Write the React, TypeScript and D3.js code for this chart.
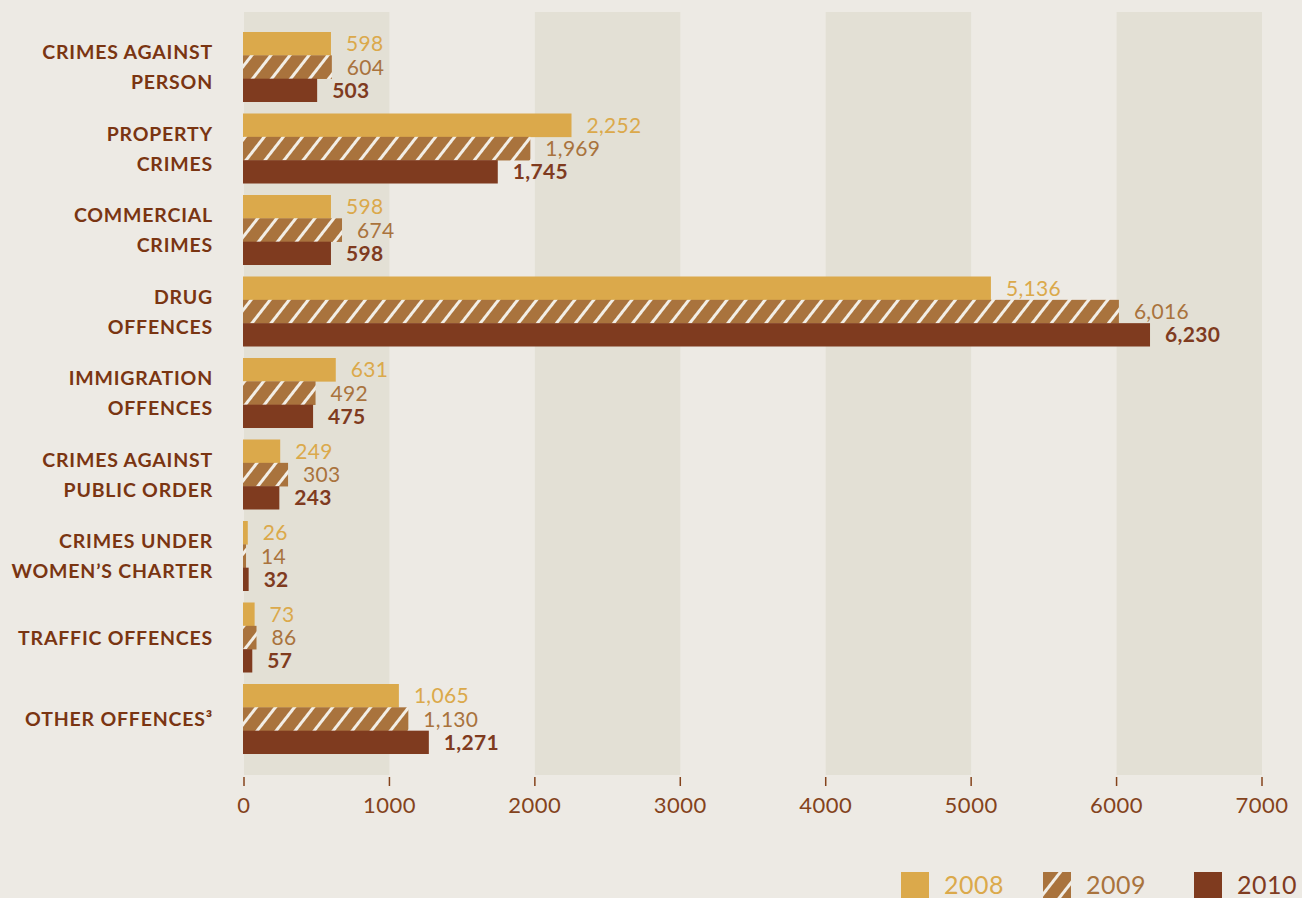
import React from "react";
import * as d3 from "d3";

const categories: string[][] = [
  ["CRIMES AGAINST", "PERSON"],
  ["PROPERTY", "CRIMES"],
  ["COMMERCIAL", "CRIMES"],
  ["DRUG", "OFFENCES"],
  ["IMMIGRATION", "OFFENCES"],
  ["CRIMES AGAINST", "PUBLIC ORDER"],
  ["CRIMES UNDER", "WOMEN’S CHARTER"],
  ["TRAFFIC OFFENCES"],
  ["OTHER OFFENCES³"],
];
const years = ["2008", "2009", "2010"];
const values2008 = [598, 2252, 598, 5136, 631, 249, 26, 73, 1065];
const values2009 = [604, 1969, 674, 6016, 492, 303, 14, 86, 1130];
const values2010 = [503, 1745, 598, 6230, 475, 243, 32, 57, 1271];
const xTicks = [0, 1000, 2000, 3000, 4000, 5000, 6000, 7000];

const W = 1302;
const H = 898;
const BG = "#EDEAE4";
const BAND = "#E3E0D5";
const C2008 = "#DBA94B";
const C2009 = "#A9733D";
const C2010 = "#7F3B1F";
const LABEL = "#7A3512";
const AXIS = "#84431C";
const FONT = "Lato, 'Open Sans', sans-serif";

export default function App() {
  const series = [values2008, values2009, values2010];
  const keys = categories.map((c) => c.join(" "));
  const x = d3.scaleLinear().domain([0, 7000]).range([244, 1262]);
  const y = d3
    .scaleBand<string>()
    .domain(keys)
    .range([26.25, 759.75])
    .paddingInner(0.141)
    .paddingOuter(0.0705);
  const yy = d3.scaleBand<string>().domain(years).range([0, y.bandwidth()]);
  const fmt = d3.format(",");
  const fills = [C2008, "url(#stripes)", C2010];
  const textColors = [C2008, C2009, C2010];
  const weights = [400, 400, 700];

  const bands = [0, 2000, 4000, 6000];

  return (
    <svg
      width={W}
      height={H}
      style={{ position: "absolute", left: 0, top: 0, display: "block" }}
      fontFamily={FONT}
    >
      <defs>
        <pattern
          id="stripes"
          patternUnits="userSpaceOnUse"
          width={15}
          height={15}
          patternTransform="rotate(38)"
        >
          <rect width={15} height={15} fill={C2009} />
          <line x1={7.5} y1={-1} x2={7.5} y2={16} stroke="#F2EEE6" strokeWidth={3} />
        </pattern>
      </defs>
      <rect width={W} height={H} fill={BG} />
      {bands.map((b) => (
        <rect key={b} x={x(b)} y={12} width={x(b + 1000) - x(b)} height={763} fill={BAND} />
      ))}
      {keys.map((k, i) => {
        const y0 = y(k)!;
        const cy = y0 + y.bandwidth() / 2;
        const lines = categories[i];
        return (
          <g key={k}>
            {lines.map((ln, j) => (
              <text
                key={j}
                x={213}
                y={cy + (j - (lines.length - 1) / 2) * 30}
                dy="0.36em"
                textAnchor="end"
                fontSize={19.5}
                fontWeight={700}
                letterSpacing={0.8}
                fill={LABEL}
              >
                {ln}
              </text>
            ))}
            {years.map((yr, s) => {
              const v = series[s][i];
              const by = y0 + yy(yr)!;
              return (
                <g key={yr}>
                  <rect
                    x={243}
                    y={by}
                    width={Math.max(x(v) - 243, 1)}
                    height={yy.bandwidth() + (s < 2 ? 0.3 : 0)}
                    fill={fills[s]}
                  />
                  <text
                    x={x(v) + 15}
                    y={by + yy.bandwidth() / 2}
                    dy="0.36em"
                    fontSize={21}
                    fontWeight={weights[s]}
                    letterSpacing={0.3}
                    fill={textColors[s]}
                  >
                    {fmt(v)}
                  </text>
                </g>
              );
            })}
          </g>
        );
      })}
      {xTicks.map((t) => (
        <g key={t}>
          <line x1={x(t)} x2={x(t)} y1={777} y2={786} stroke={AXIS} strokeWidth={1.5} />
          <text
            x={x(t)}
            y={805}
            dy="0.36em"
            textAnchor="middle"
            fontSize={22}
            fontWeight={400}
            letterSpacing={0.5}
            fill={AXIS}
          >
            {t}
          </text>
        </g>
      ))}
      {years.map((yr, s) => {
        const lx = [901, 1043, 1194][s];
        return (
          <g key={yr}>
            <rect x={lx} y={872} width={28} height={28} fill={fills[s]} />
            <text
              x={lx + 43}
              y={885}
              dy="0.36em"
              fontSize={25}
              fontWeight={400}
              letterSpacing={0.5}
              fill={textColors[s]}
            >
              {yr}
            </text>
          </g>
        );
      })}
    </svg>
  );
}
